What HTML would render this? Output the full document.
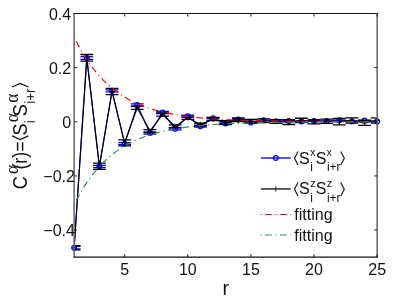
<!DOCTYPE html>
<html><head><meta charset="utf-8"><title>plot</title>
<style>html,body{margin:0;padding:0;background:#fff;overflow:hidden}body{width:415px;height:305px;position:relative;font-family:"Liberation Sans",sans-serif}</style></head>
<body>
<svg width="415" height="305" viewBox="0 0 415 305" style="position:absolute;left:0;top:0;will-change:transform">
<rect width="415" height="305" fill="#fff"/>
<defs><clipPath id="c"><rect x="74.15" y="13.5" width="303.0" height="243.64999999999998"/></clipPath></defs>
<g clip-path="url(#c)">
<polyline points="74.15,247.65 86.78,58.03 99.40,166.57 112.03,90.79 124.65,143.69 137.28,105.00 149.90,133.00 162.53,112.39 175.15,128.83 187.78,116.29 200.40,126.17 213.03,118.27 225.65,123.41 238.28,119.62 250.90,122.60 263.52,120.30 276.15,121.25 288.77,120.98 301.40,121.38 314.02,120.98 326.65,121.25 339.27,120.30 351.90,121.52 364.52,120.44 377.15,121.52" fill="none" stroke="#0000ff" stroke-width="1.15" stroke-linejoin="miter"/>
<path d="M74.15,246.46V248.84M67.75,246.46H80.55M67.75,248.84H80.55" stroke="#0000ff" stroke-width="1.3" fill="none"/>
<path d="M86.78,56.68V59.39M80.38,56.68H93.18M80.38,59.39H93.18" stroke="#0000ff" stroke-width="1.3" fill="none"/>
<path d="M99.40,165.46V167.68M93.00,165.46H105.80M93.00,167.68H105.80" stroke="#0000ff" stroke-width="1.3" fill="none"/>
<path d="M112.03,89.79V91.79M105.62,89.79H118.43M105.62,91.79H118.43" stroke="#0000ff" stroke-width="1.3" fill="none"/>
<path d="M124.65,142.69V144.69M118.25,142.69H131.05M118.25,144.69H131.05" stroke="#0000ff" stroke-width="1.3" fill="none"/>
<path d="M137.28,103.92V106.09M130.88,103.92H143.68M130.88,106.09H143.68" stroke="#0000ff" stroke-width="1.3" fill="none"/>
<path d="M149.90,131.91V134.08M143.50,131.91H156.30M143.50,134.08H156.30" stroke="#0000ff" stroke-width="1.3" fill="none"/>
<path d="M162.53,111.31V113.48M156.12,111.31H168.93M156.12,113.48H168.93" stroke="#0000ff" stroke-width="1.3" fill="none"/>
<path d="M175.15,127.74V129.91M168.75,127.74H181.55M168.75,129.91H181.55" stroke="#0000ff" stroke-width="1.3" fill="none"/>
<path d="M187.78,115.21V117.38M181.38,115.21H194.18M181.38,117.38H194.18" stroke="#0000ff" stroke-width="1.3" fill="none"/>
<path d="M200.40,125.23V127.12M194.00,125.23H206.80M194.00,127.12H206.80" stroke="#0000ff" stroke-width="1.3" fill="none"/>
<path d="M213.03,117.59V118.95M206.62,117.59H219.43M206.62,118.95H219.43" stroke="#0000ff" stroke-width="1.3" fill="none"/>
<path d="M225.65,122.87V123.95M219.25,122.87H232.05M219.25,123.95H232.05" stroke="#0000ff" stroke-width="1.3" fill="none"/>
<path d="M238.28,119.22V120.03M231.88,119.22H244.68M231.88,120.03H244.68" stroke="#0000ff" stroke-width="1.3" fill="none"/>
<path d="M250.90,122.33V122.87M244.50,122.33H257.30M244.50,122.87H257.30" stroke="#0000ff" stroke-width="1.3" fill="none"/>
<path d="M263.52,120.03V120.57M257.12,120.03H269.92M257.12,120.57H269.92" stroke="#0000ff" stroke-width="1.3" fill="none"/>
<path d="M276.15,120.98V121.52M269.75,120.98H282.55M269.75,121.52H282.55" stroke="#0000ff" stroke-width="1.3" fill="none"/>
<path d="M288.77,120.71V121.25M282.38,120.71H295.17M282.38,121.25H295.17" stroke="#0000ff" stroke-width="1.3" fill="none"/>
<path d="M301.40,121.11V121.65M295.00,121.11H307.80M295.00,121.65H307.80" stroke="#0000ff" stroke-width="1.3" fill="none"/>
<path d="M314.02,120.71V121.25M307.62,120.71H320.42M307.62,121.25H320.42" stroke="#0000ff" stroke-width="1.3" fill="none"/>
<path d="M326.65,120.98V121.52M320.25,120.98H333.05M320.25,121.52H333.05" stroke="#0000ff" stroke-width="1.3" fill="none"/>
<path d="M339.27,120.03V120.57M332.88,120.03H345.67M332.88,120.57H345.67" stroke="#0000ff" stroke-width="1.3" fill="none"/>
<path d="M351.90,121.25V121.79M345.50,121.25H358.30M345.50,121.79H358.30" stroke="#0000ff" stroke-width="1.3" fill="none"/>
<path d="M364.52,120.16V120.71M358.12,120.16H370.92M358.12,120.71H370.92" stroke="#0000ff" stroke-width="1.3" fill="none"/>
<path d="M377.15,121.25V121.79M370.75,121.25H383.55M370.75,121.79H383.55" stroke="#0000ff" stroke-width="1.3" fill="none"/>
</g>
<circle cx="74.15" cy="247.65" r="2.4" fill="none" stroke="#0000ff" stroke-width="1.2"/>
<circle cx="86.78" cy="58.03" r="2.4" fill="none" stroke="#0000ff" stroke-width="1.2"/>
<circle cx="99.40" cy="166.57" r="2.4" fill="none" stroke="#0000ff" stroke-width="1.2"/>
<circle cx="112.03" cy="90.79" r="2.4" fill="none" stroke="#0000ff" stroke-width="1.2"/>
<circle cx="124.65" cy="143.69" r="2.4" fill="none" stroke="#0000ff" stroke-width="1.2"/>
<circle cx="137.28" cy="105.00" r="2.4" fill="none" stroke="#0000ff" stroke-width="1.2"/>
<circle cx="149.90" cy="133.00" r="2.4" fill="none" stroke="#0000ff" stroke-width="1.2"/>
<circle cx="162.53" cy="112.39" r="2.4" fill="none" stroke="#0000ff" stroke-width="1.2"/>
<circle cx="175.15" cy="128.83" r="2.4" fill="none" stroke="#0000ff" stroke-width="1.2"/>
<circle cx="187.78" cy="116.29" r="2.4" fill="none" stroke="#0000ff" stroke-width="1.2"/>
<circle cx="200.40" cy="126.17" r="2.4" fill="none" stroke="#0000ff" stroke-width="1.2"/>
<circle cx="213.03" cy="118.27" r="2.4" fill="none" stroke="#0000ff" stroke-width="1.2"/>
<circle cx="225.65" cy="123.41" r="2.4" fill="none" stroke="#0000ff" stroke-width="1.2"/>
<circle cx="238.28" cy="119.62" r="2.4" fill="none" stroke="#0000ff" stroke-width="1.2"/>
<circle cx="250.90" cy="122.60" r="2.4" fill="none" stroke="#0000ff" stroke-width="1.2"/>
<circle cx="263.52" cy="120.30" r="2.4" fill="none" stroke="#0000ff" stroke-width="1.2"/>
<circle cx="276.15" cy="121.25" r="2.4" fill="none" stroke="#0000ff" stroke-width="1.2"/>
<circle cx="288.77" cy="120.98" r="2.4" fill="none" stroke="#0000ff" stroke-width="1.2"/>
<circle cx="301.40" cy="121.38" r="2.4" fill="none" stroke="#0000ff" stroke-width="1.2"/>
<circle cx="314.02" cy="120.98" r="2.4" fill="none" stroke="#0000ff" stroke-width="1.2"/>
<circle cx="326.65" cy="121.25" r="2.4" fill="none" stroke="#0000ff" stroke-width="1.2"/>
<circle cx="339.27" cy="120.30" r="2.4" fill="none" stroke="#0000ff" stroke-width="1.2"/>
<circle cx="351.90" cy="121.52" r="2.4" fill="none" stroke="#0000ff" stroke-width="1.2"/>
<circle cx="364.52" cy="120.44" r="2.4" fill="none" stroke="#0000ff" stroke-width="1.2"/>
<circle cx="377.15" cy="121.52" r="2.4" fill="none" stroke="#0000ff" stroke-width="1.2"/>
<g clip-path="url(#c)">
<polyline points="74.15,247.81 86.78,57.84 99.40,166.21 112.03,91.50 124.65,142.88 137.28,107.71 149.90,131.07 162.53,114.48 175.15,126.39 187.78,117.84 200.40,124.55 213.03,118.95 225.65,122.60 238.28,119.79 250.90,121.25 263.52,120.71 276.15,121.52 288.77,122.06 301.40,120.44 314.02,121.79 326.65,121.25 339.27,121.68 351.90,120.44 364.52,122.87 377.15,120.44" fill="none" stroke="#000000" stroke-width="1.15" stroke-linejoin="miter"/>
<path d="M74.15,245.70V249.92M67.75,245.70H80.55M67.75,249.92H80.55" stroke="#000000" stroke-width="1.3" fill="none"/>
<path d="M86.78,54.49V61.20M80.38,54.49H93.18M80.38,61.20H93.18" stroke="#000000" stroke-width="1.3" fill="none"/>
<path d="M99.40,163.07V169.35M93.00,163.07H105.80M93.00,169.35H105.80" stroke="#000000" stroke-width="1.3" fill="none"/>
<path d="M112.03,88.30V94.69M105.62,88.30H118.43M105.62,94.69H118.43" stroke="#000000" stroke-width="1.3" fill="none"/>
<path d="M124.65,139.93V145.83M118.25,139.93H131.05M118.25,145.83H131.05" stroke="#000000" stroke-width="1.3" fill="none"/>
<path d="M137.28,106.09V109.34M130.88,106.09H143.68M130.88,109.34H143.68" stroke="#000000" stroke-width="1.3" fill="none"/>
<path d="M149.90,129.61V132.54M143.50,129.61H156.30M143.50,132.54H156.30" stroke="#000000" stroke-width="1.3" fill="none"/>
<path d="M162.53,112.86V116.10M156.12,112.86H168.93M156.12,116.10H168.93" stroke="#000000" stroke-width="1.3" fill="none"/>
<path d="M175.15,124.93V127.85M168.75,124.93H181.55M168.75,127.85H181.55" stroke="#000000" stroke-width="1.3" fill="none"/>
<path d="M187.78,116.21V119.46M181.38,116.21H194.18M181.38,119.46H194.18" stroke="#000000" stroke-width="1.3" fill="none"/>
<path d="M200.40,123.09V126.01M194.00,123.09H206.80M194.00,126.01H206.80" stroke="#000000" stroke-width="1.3" fill="none"/>
<path d="M213.03,117.32V120.57M206.62,117.32H219.43M206.62,120.57H219.43" stroke="#000000" stroke-width="1.3" fill="none"/>
<path d="M225.65,120.71V124.50M219.25,120.71H232.05M219.25,124.50H232.05" stroke="#000000" stroke-width="1.3" fill="none"/>
<path d="M238.28,118.00V121.57M231.88,118.00H244.68M231.88,121.57H244.68" stroke="#000000" stroke-width="1.3" fill="none"/>
<path d="M250.90,119.46V123.03M244.50,119.46H257.30M244.50,123.03H257.30" stroke="#000000" stroke-width="1.3" fill="none"/>
<path d="M263.52,118.81V122.60M257.12,118.81H269.92M257.12,122.60H269.92" stroke="#000000" stroke-width="1.3" fill="none"/>
<path d="M276.15,119.62V123.41M269.75,119.62H282.55M269.75,123.41H282.55" stroke="#000000" stroke-width="1.3" fill="none"/>
<path d="M288.77,119.62V124.50M282.38,119.62H295.17M282.38,124.50H295.17" stroke="#000000" stroke-width="1.3" fill="none"/>
<path d="M301.40,118.27V122.60M295.00,118.27H307.80M295.00,122.60H307.80" stroke="#000000" stroke-width="1.3" fill="none"/>
<path d="M314.02,119.62V123.95M307.62,119.62H320.42M307.62,123.95H320.42" stroke="#000000" stroke-width="1.3" fill="none"/>
<path d="M326.65,119.08V123.41M320.25,119.08H333.05M320.25,123.41H333.05" stroke="#000000" stroke-width="1.3" fill="none"/>
<path d="M339.27,118.49V124.88M332.88,118.49H345.67M332.88,124.88H345.67" stroke="#000000" stroke-width="1.3" fill="none"/>
<path d="M351.90,117.78V123.09M345.50,117.78H358.30M345.50,123.09H358.30" stroke="#000000" stroke-width="1.3" fill="none"/>
<path d="M364.52,120.33V125.42M358.12,120.33H370.92M358.12,125.42H370.92" stroke="#000000" stroke-width="1.3" fill="none"/>
<path d="M377.15,117.78V123.09M370.75,117.78H383.55M370.75,123.09H383.55" stroke="#000000" stroke-width="1.3" fill="none"/>
</g>
<path d="M71.55,247.81H76.75M74.15,245.21V250.41" stroke="#000" stroke-width="1"/>
<path d="M84.18,57.84H89.38M86.78,55.24V60.44" stroke="#000" stroke-width="1"/>
<path d="M96.80,166.21H102.00M99.40,163.61V168.81" stroke="#000" stroke-width="1"/>
<path d="M109.43,91.50H114.62M112.03,88.90V94.10" stroke="#000" stroke-width="1"/>
<path d="M122.05,142.88H127.25M124.65,140.28V145.48" stroke="#000" stroke-width="1"/>
<path d="M134.68,107.71H139.88M137.28,105.11V110.31" stroke="#000" stroke-width="1"/>
<path d="M147.30,131.07H152.50M149.90,128.47V133.67" stroke="#000" stroke-width="1"/>
<path d="M159.93,114.48H165.12M162.53,111.88V117.08" stroke="#000" stroke-width="1"/>
<path d="M172.55,126.39H177.75M175.15,123.79V128.99" stroke="#000" stroke-width="1"/>
<path d="M185.18,117.84H190.38M187.78,115.24V120.44" stroke="#000" stroke-width="1"/>
<path d="M197.80,124.55H203.00M200.40,121.95V127.15" stroke="#000" stroke-width="1"/>
<path d="M210.43,118.95H215.62M213.03,116.35V121.55" stroke="#000" stroke-width="1"/>
<path d="M223.05,122.60H228.25M225.65,120.00V125.20" stroke="#000" stroke-width="1"/>
<path d="M235.68,119.79H240.88M238.28,117.19V122.39" stroke="#000" stroke-width="1"/>
<path d="M248.30,121.25H253.50M250.90,118.65V123.85" stroke="#000" stroke-width="1"/>
<path d="M260.92,120.71H266.12M263.52,118.11V123.31" stroke="#000" stroke-width="1"/>
<path d="M273.55,121.52H278.75M276.15,118.92V124.12" stroke="#000" stroke-width="1"/>
<path d="M286.17,122.06H291.38M288.77,119.46V124.66" stroke="#000" stroke-width="1"/>
<path d="M298.80,120.44H304.00M301.40,117.84V123.04" stroke="#000" stroke-width="1"/>
<path d="M311.42,121.79H316.62M314.02,119.19V124.39" stroke="#000" stroke-width="1"/>
<path d="M324.05,121.25H329.25M326.65,118.65V123.85" stroke="#000" stroke-width="1"/>
<path d="M336.67,121.68H341.88M339.27,119.08V124.28" stroke="#000" stroke-width="1"/>
<path d="M349.30,120.44H354.50M351.90,117.84V123.04" stroke="#000" stroke-width="1"/>
<path d="M361.92,122.87H367.12M364.52,120.27V125.47" stroke="#000" stroke-width="1"/>
<path d="M374.55,120.44H379.75M377.15,117.84V123.04" stroke="#000" stroke-width="1"/>
<g clip-path="url(#c)">
<polyline points="74.15,37.05 75.41,39.62 76.68,42.11 77.94,44.52 79.20,46.87 80.46,49.14 81.73,51.34 82.99,53.47 84.25,55.54 85.51,57.55 86.78,59.50 88.04,61.38 89.30,63.21 90.56,64.99 91.83,66.71 93.09,68.38 94.35,70.00 95.61,71.57 96.88,73.09 98.14,74.56 99.40,75.99 100.66,77.38 101.93,78.73 103.19,80.03 104.45,81.30 105.71,82.52 106.98,83.71 108.24,84.87 109.50,85.99 110.76,87.07 112.03,88.12 113.29,89.14 114.55,90.13 115.81,91.09 117.08,92.02 118.34,92.92 119.60,93.80 120.86,94.65 122.12,95.47 123.39,96.27 124.65,97.04 125.91,97.79 127.17,98.52 128.44,99.22 129.70,99.91 130.96,100.57 132.22,101.21 133.49,101.84 134.75,102.44 136.01,103.03 137.27,103.60 138.54,104.15 139.80,104.68 141.06,105.20 142.32,105.70 143.59,106.19 144.85,106.66 146.11,107.12 147.37,107.56 148.64,108.00 149.90,108.41 151.16,108.82 152.42,109.21 153.69,109.59 154.95,109.96 156.21,110.32 157.47,110.67 158.74,111.01 160.00,111.33 161.26,111.65 162.52,111.96 163.79,112.25 165.05,112.54 166.31,112.82 167.57,113.10 168.84,113.36 170.10,113.61 171.36,113.86 172.62,114.10 173.89,114.33 175.15,114.56 176.41,114.78 177.67,114.99 178.94,115.20 180.20,115.40 181.46,115.59 182.72,115.78 183.99,115.96 185.25,116.14 186.51,116.31 187.77,116.48 189.04,116.64 190.30,116.79 191.56,116.94 192.82,117.09 194.09,117.23 195.35,117.37 196.61,117.50 197.87,117.63 199.14,117.76 200.40,117.88 201.66,118.00 202.92,118.12 204.19,118.23 205.45,118.33 206.71,118.44 207.97,118.54 209.24,118.64 210.50,118.73 211.76,118.83 213.02,118.92 214.29,119.00 215.55,119.09 216.81,119.17 218.07,119.25 219.34,119.33 220.60,119.40 221.86,119.47 223.12,119.54 224.39,119.61 225.65,119.68 226.91,119.74 228.17,119.80 229.44,119.86 230.70,119.92 231.96,119.98 233.22,120.03 234.49,120.09 235.75,120.14 237.01,120.19 238.27,120.24 239.54,120.28 240.80,120.33 242.06,120.37 243.32,120.42 244.59,120.46 245.85,120.50 247.11,120.54 248.37,120.58 249.64,120.61 250.90,120.65 252.16,120.68 253.42,120.72 254.69,120.75 255.95,120.78 257.21,120.81 258.47,120.84 259.74,120.87 261.00,120.90 262.26,120.92 263.52,120.95 264.79,120.98 266.05,121.00 267.31,121.02 268.57,121.05 269.84,121.07 271.10,121.09 272.36,121.11 273.62,121.13 274.89,121.15 276.15,121.17 277.41,121.19 278.67,121.21 279.94,121.23 281.20,121.24 282.46,121.26 283.72,121.28 284.99,121.29 286.25,121.31 287.51,121.32 288.77,121.34 290.04,121.35 291.30,121.36 292.56,121.38 293.82,121.39 295.09,121.40 296.35,121.41 297.61,121.42 298.88,121.43 300.14,121.45 301.40,121.46 302.66,121.47 303.93,121.48 305.19,121.49 306.45,121.49 307.71,121.50 308.98,121.51 310.24,121.52 311.50,121.53 312.76,121.54 314.03,121.54 315.29,121.55 316.55,121.56 317.81,121.57 319.08,121.57 320.34,121.58 321.60,121.59 322.86,121.59 324.13,121.60 325.39,121.60 326.65,121.61 327.91,121.61 329.18,121.62 330.44,121.62 331.70,121.63 332.96,121.63 334.23,121.64 335.49,121.64 336.75,121.65 338.01,121.65 339.28,121.66 340.54,121.66 341.80,121.66 343.06,121.67 344.33,121.67 345.59,121.68 346.85,121.68 348.11,121.68 349.38,121.69 350.64,121.69 351.90,121.69 353.16,121.69 354.43,121.70 355.69,121.70 356.95,121.70 358.21,121.71 359.48,121.71 360.74,121.71 362.00,121.71 363.26,121.72 364.53,121.72 365.79,121.72 367.05,121.72 368.31,121.72 369.58,121.73 370.84,121.73 372.10,121.73 373.36,121.73 374.63,121.73 375.89,121.73 377.15,121.74" fill="none" stroke="#ff0000" stroke-width="1.15" stroke-dasharray="6.7,3.6,1.1,3.6" stroke-dashoffset="10.3"/>
<polyline points="74.15,204.63 75.41,202.12 76.68,199.69 77.94,197.33 79.20,195.04 80.46,192.82 81.73,190.66 82.99,188.58 84.25,186.55 85.51,184.59 86.78,182.69 88.04,180.84 89.30,179.05 90.56,177.32 91.83,175.64 93.09,174.00 94.35,172.42 95.61,170.89 96.88,169.40 98.14,167.96 99.40,166.56 100.66,165.20 101.93,163.89 103.19,162.61 104.45,161.37 105.71,160.17 106.98,159.01 108.24,157.88 109.50,156.79 110.76,155.73 112.03,154.70 113.29,153.70 114.55,152.74 115.81,151.80 117.08,150.89 118.34,150.01 119.60,149.15 120.86,148.32 122.12,147.52 123.39,146.74 124.65,145.98 125.91,145.25 127.17,144.54 128.44,143.85 129.70,143.18 130.96,142.53 132.22,141.91 133.49,141.30 134.75,140.70 136.01,140.13 137.27,139.58 138.54,139.04 139.80,138.51 141.06,138.01 142.32,137.52 143.59,137.04 144.85,136.58 146.11,136.13 147.37,135.69 148.64,135.27 149.90,134.86 151.16,134.47 152.42,134.08 153.69,133.71 154.95,133.35 156.21,133.00 157.47,132.66 158.74,132.33 160.00,132.01 161.26,131.70 162.52,131.40 163.79,131.11 165.05,130.83 166.31,130.55 167.57,130.29 168.84,130.03 170.10,129.78 171.36,129.54 172.62,129.30 173.89,129.08 175.15,128.86 176.41,128.64 177.67,128.43 178.94,128.23 180.20,128.04 181.46,127.85 182.72,127.66 183.99,127.49 185.25,127.31 186.51,127.15 187.77,126.98 189.04,126.83 190.30,126.67 191.56,126.53 192.82,126.38 194.09,126.24 195.35,126.11 196.61,125.98 197.87,125.85 199.14,125.73 200.40,125.61 201.66,125.49 202.92,125.38 204.19,125.27 205.45,125.17 206.71,125.06 207.97,124.96 209.24,124.87 210.50,124.77 211.76,124.68 213.02,124.60 214.29,124.51 215.55,124.43 216.81,124.35 218.07,124.27 219.34,124.20 220.60,124.12 221.86,124.05 223.12,123.98 224.39,123.92 225.65,123.85 226.91,123.79 228.17,123.73 229.44,123.67 230.70,123.61 231.96,123.56 233.22,123.50 234.49,123.45 235.75,123.40 237.01,123.35 238.27,123.31 239.54,123.26 240.80,123.22 242.06,123.17 243.32,123.13 244.59,123.09 245.85,123.05 247.11,123.01 248.37,122.98 249.64,122.94 250.90,122.90 252.16,122.87 253.42,122.84 254.69,122.81 255.95,122.78 257.21,122.75 258.47,122.72 259.74,122.69 261.00,122.66 262.26,122.63 263.52,122.61 264.79,122.58 266.05,122.56 267.31,122.54 268.57,122.51 269.84,122.49 271.10,122.47 272.36,122.45 273.62,122.43 274.89,122.41 276.15,122.39 277.41,122.37 278.67,122.36 279.94,122.34 281.20,122.32 282.46,122.31 283.72,122.29 284.99,122.27 286.25,122.26 287.51,122.25 288.77,122.23 290.04,122.22 291.30,122.21 292.56,122.19 293.82,122.18 295.09,122.17 296.35,122.16 297.61,122.15 298.88,122.14 300.14,122.12 301.40,122.11 302.66,122.10 303.93,122.10 305.19,122.09 306.45,122.08 307.71,122.07 308.98,122.06 310.24,122.05 311.50,122.04 312.76,122.04 314.03,122.03 315.29,122.02 316.55,122.01 317.81,122.01 319.08,122.00 320.34,121.99 321.60,121.99 322.86,121.98 324.13,121.98 325.39,121.97 326.65,121.96 327.91,121.96 329.18,121.95 330.44,121.95 331.70,121.94 332.96,121.94 334.23,121.94 335.49,121.93 336.75,121.93 338.01,121.92 339.28,121.92 340.54,121.91 341.80,121.91 343.06,121.91 344.33,121.90 345.59,121.90 346.85,121.90 348.11,121.89 349.38,121.89 350.64,121.89 351.90,121.88 353.16,121.88 354.43,121.88 355.69,121.88 356.95,121.87 358.21,121.87 359.48,121.87 360.74,121.87 362.00,121.86 363.26,121.86 364.53,121.86 365.79,121.86 367.05,121.85 368.31,121.85 369.58,121.85 370.84,121.85 372.10,121.85 373.36,121.85 374.63,121.84 375.89,121.84 377.15,121.84" fill="none" stroke="#2e8b57" stroke-width="1.15" stroke-dasharray="6.7,3.6,1.1,3.6" stroke-dashoffset="10.3"/>
</g>
<path d="M74.15,13.0V257.65M377.15,13.0V257.65" stroke="#666" stroke-width="1.5" fill="none"/>
<path d="M73.55000000000001,13.5H377.75M73.55000000000001,257.15H377.75" stroke="#111" stroke-width="1.1" fill="none"/>
<path d="M124.65,257.15v-3.0M124.65,13.5v3.0M187.78,257.15v-3.0M187.78,13.5v3.0M250.90,257.15v-3.0M250.90,13.5v3.0M314.02,257.15v-3.0M314.02,13.5v3.0M377.15,257.15v-3.0M377.15,13.5v3.0" stroke="#222" stroke-width="1.05" fill="none"/>
<path d="M74.15,13.50h3.0M377.15,13.50h-3.0M74.15,67.64h3.0M377.15,67.64h-3.0M74.15,121.79h3.0M377.15,121.79h-3.0M74.15,175.93h3.0M377.15,175.93h-3.0M74.15,230.08h3.0M377.15,230.08h-3.0" stroke="#222" stroke-width="0.95" fill="none"/>
<g font-family="Liberation Sans, sans-serif" font-size="16" fill="#111">
<text x="124.65" y="275.3" text-anchor="middle">5</text>
<text x="187.78" y="275.3" text-anchor="middle">10</text>
<text x="250.90" y="275.3" text-anchor="middle">15</text>
<text x="314.02" y="275.3" text-anchor="middle">20</text>
<text x="377.15" y="275.3" text-anchor="middle">25</text>
<text x="71.2" y="19.90" text-anchor="end">0.4</text>
<text x="71.2" y="74.04" text-anchor="end">0.2</text>
<text x="71.2" y="128.19" text-anchor="end">0</text>
<text x="74.9" y="182.33" text-anchor="end">−0.2</text>
<text x="74.9" y="236.48" text-anchor="end">−0.4</text>
</g>
<text x="225.65" y="294.6" text-anchor="middle" font-family="Liberation Sans, sans-serif" font-size="19.5" fill="#111">r</text>
<g font-family="Liberation Sans, sans-serif" fill="#111">
<polyline points="298.00,151.50 294.50,158.25 298.00,165.00" fill="none" stroke="#111" stroke-width="1.1"/>
<text x="299.1" y="163.5" font-size="16">S</text>
<text x="310.2" y="155.7" font-size="10">x</text>
<text x="310.3" y="171.2" font-size="12">i</text>
<text x="315.7" y="163.5" font-size="16">S</text>
<text x="326.8" y="155.7" font-size="10">x</text>
<text x="326.9" y="171.2" font-size="12">i+r</text>
<polyline points="340.80,151.50 344.30,158.25 340.80,165.00" fill="none" stroke="#111" stroke-width="1.1"/>
<polyline points="298.00,182.40 294.50,189.15 298.00,195.90" fill="none" stroke="#111" stroke-width="1.1"/>
<text x="299.1" y="194.4" font-size="16">S</text>
<text x="310.2" y="186.6" font-size="11">z</text>
<text x="310.3" y="202.1" font-size="12">i</text>
<text x="315.7" y="194.4" font-size="16">S</text>
<text x="326.8" y="186.6" font-size="11">z</text>
<text x="326.9" y="202.1" font-size="12">i+r</text>
<polyline points="340.80,182.40 344.30,189.15 340.80,195.90" fill="none" stroke="#111" stroke-width="1.1"/>
<text x="294.3" y="220.4" font-size="16">fitting</text>
<text x="294.3" y="241.1" font-size="16">fitting</text>
</g>
<path d="M261,158H290.7" stroke="#1a1aff" stroke-width="1.5"/>
<circle cx="275.8" cy="158" r="2.3" fill="none" stroke="#0000ff" stroke-width="1.2"/>
<path d="M261,188.9H290.7" stroke="#2a2a2a" stroke-width="1.5"/>
<path d="M275.8,186.2V191.6" stroke="#222" stroke-width="1"/>
<path d="M260.4,214.5H291" stroke="#ff0000" stroke-width="1.15" stroke-dasharray="6.7,3.6,1.1,3.6" stroke-dashoffset="10.3"/>
<path d="M260.4,235H291" stroke="#2e8b57" stroke-width="1.15" stroke-dasharray="6.7,3.6,1.1,3.6" stroke-dashoffset="10.3"/>
<g transform="translate(26.7,188.6) rotate(-90) scale(1,1.1)" font-family="Liberation Sans, sans-serif" fill="#111">
<text x="-0.6" y="0" font-size="18">C</text>
<text x="14.495999999999999" y="-8.3" font-size="17.5" font-family="Liberation Serif, serif">α</text>
<text x="18.996" y="0" font-size="18">(r)=</text>
<polyline points="52.708,-13.3 49.108,-5.9 52.708,1.55" fill="none" stroke="#111" stroke-width="1.2"/>
<text x="53.007999999999996" y="0" font-size="18">S</text>
<text x="66.314" y="-8.3" font-size="17.5" font-family="Liberation Serif, serif">α</text>
<text x="65.314" y="7.6" font-size="13.5">i</text>
<text x="72.439" y="0" font-size="18">S</text>
<text x="85.74499999999999" y="-8.3" font-size="17.5" font-family="Liberation Serif, serif">α</text>
<text x="84.74499999999999" y="7.6" font-size="13.5">i+r</text>
<polyline points="101.62149999999998,-13.3 105.22149999999998,-5.9 101.62149999999998,1.55" fill="none" stroke="#111" stroke-width="1.2"/>
</g>
</svg>
</body></html>
